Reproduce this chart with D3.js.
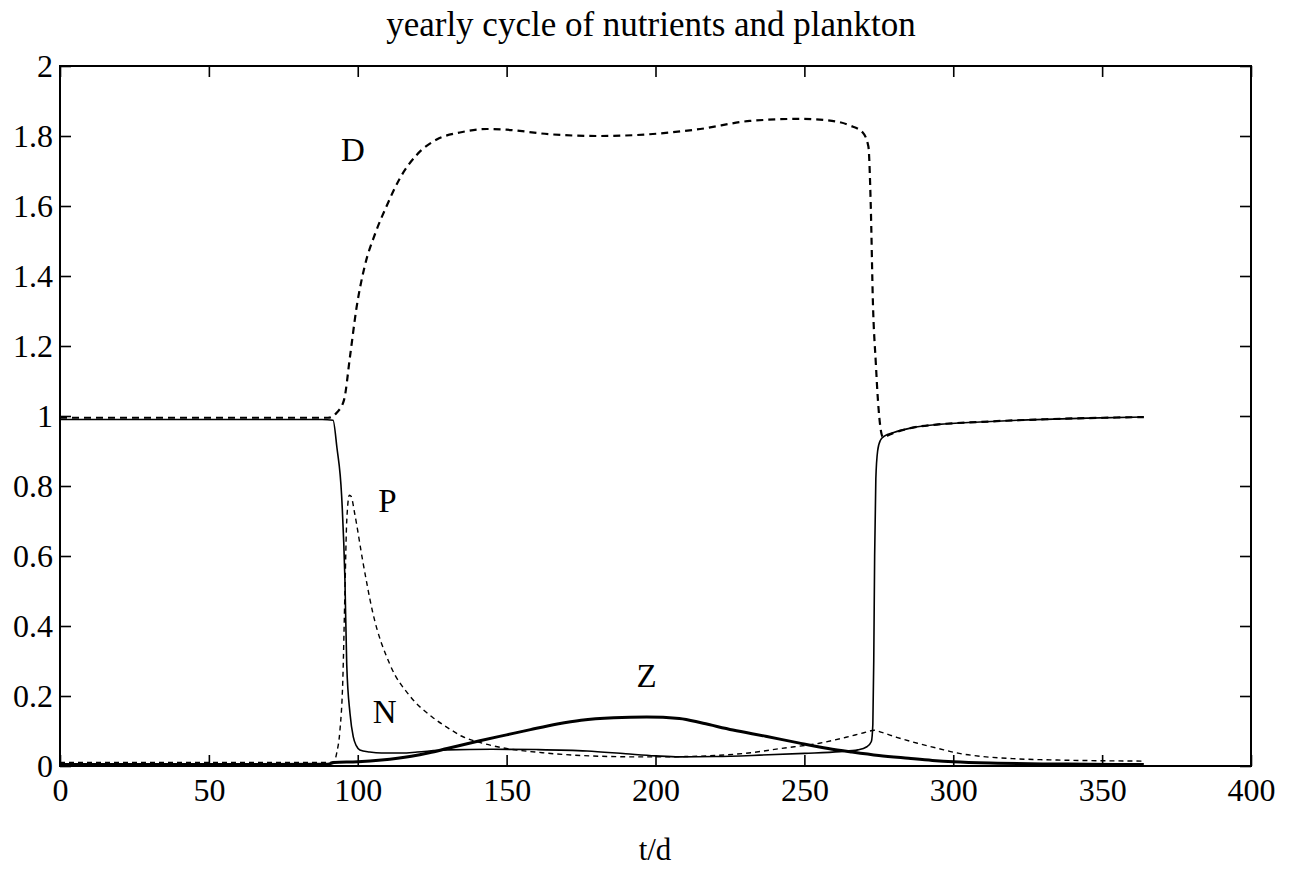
<!DOCTYPE html>
<html>
<head>
<meta charset="utf-8">
<script src="https://cdn.jsdelivr.net/npm/d3@7"></script>
<style>
  body { margin: 0; background: #fff; }
  svg text { font-family: "Liberation Serif", "DejaVu Serif", serif; fill: #000; }
</style>
</head>
<body>
<div id="chart"></div>
<script>
// values, [t in days, concentration]
const nutrients = [
  [0, 0.99], [30, 0.99], [60, 0.99], [88, 0.99], [91.7, 0.988], [93, 0.91], [94.6, 0.77],
  [95.7, 0.53], [96.3, 0.29], [97.4, 0.15], [98.5, 0.083], [99.5, 0.058], [100.7, 0.046],
  [104, 0.04], [108, 0.037], [115, 0.037], [120, 0.04], [130, 0.046], [145, 0.048],
  [160, 0.047], [177, 0.043], [190, 0.035], [200, 0.029], [208, 0.026], [220, 0.027],
  [235, 0.031], [250, 0.036], [262, 0.041], [268, 0.046], [271, 0.055], [272.5, 0.07],
  [273, 0.12], [273.3, 0.3], [273.6, 0.6], [274, 0.82], [274.6, 0.9], [275.5, 0.93],
  [277, 0.943], [280, 0.953], [286, 0.966], [295, 0.976], [309, 0.983], [325, 0.989],
  [345, 0.994], [364, 0.997]
]

const phyto = [
  [0, 0.01], [30, 0.01], [60, 0.01], [90, 0.01], [92, 0.012], [93, 0.04], [94, 0.1],
  [95, 0.25], [95.7, 0.5], [96.3, 0.7], [97.2, 0.774], [97.8, 0.77], [99, 0.72],
  [101.8, 0.58], [105, 0.44], [110.8, 0.29], [117.5, 0.2], [125, 0.14], [131, 0.105],
  [135, 0.085], [142, 0.065], [150, 0.05], [162, 0.038], [175, 0.03], [195, 0.026],
  [210, 0.027], [220, 0.03], [232, 0.038], [242, 0.05], [255, 0.065], [264, 0.082],
  [270, 0.095], [273.5, 0.102], [276, 0.096], [281, 0.082], [288, 0.065], [295, 0.05],
  [302, 0.036], [310, 0.027], [320, 0.021], [335, 0.017], [350, 0.015], [364, 0.014]
]

const zoo = [
  [0, 0.004], [30, 0.004], [60, 0.004], [90, 0.005], [92, 0.01], [100, 0.012],
  [108, 0.017], [118, 0.028], [124, 0.038], [130, 0.05], [141, 0.072], [150, 0.089],
  [158, 0.104], [167, 0.12], [175, 0.131], [186, 0.138], [197, 0.14], [208, 0.136],
  [216, 0.122], [226, 0.103], [237, 0.085], [248, 0.066], [258, 0.05], [266, 0.04],
  [275, 0.03], [285, 0.022], [293, 0.016], [300, 0.012], [315, 0.008], [330, 0.006],
  [345, 0.005], [364, 0.004]
]

const detritus = [
  [0, 0.995], [30, 0.995], [60, 0.995], [90, 0.995], [93, 1.01], [95.4, 1.046],
  [97.4, 1.17], [99.6, 1.31], [102.4, 1.43], [105.8, 1.52], [109.7, 1.6], [114.2, 1.68],
  [119.8, 1.746], [126.5, 1.79], [134.3, 1.81], [143.4, 1.82], [150, 1.818],
  [164.5, 1.805], [181, 1.8], [198, 1.805], [215, 1.82], [231.7, 1.843], [248.5, 1.849],
  [257.5, 1.845], [265.3, 1.83], [269.6, 1.81], [271.5, 1.77], [272.3, 1.6], [273, 1.33],
  [274, 1.15], [274.7, 1.046], [276.4, 0.94], [280, 0.952], [286, 0.966], [295, 0.976],
  [309, 0.983], [325, 0.989], [345, 0.994], [364, 0.997]
]

const xTicks = [0, 50, 100, 150, 200, 250, 300, 350, 400]
const yTicks = [0, 0.2, 0.4, 0.6, 0.8, 1, 1.2, 1.4, 1.6, 1.8, 2]

// curve labels: name, t, value at baseline
const curveLabels = [
  ['D', 98.4, 1.73],
  ['P', 110, 0.726],
  ['N', 109, 0.123],
  ['Z', 197, 0.226]
]

const W = 1296
const H = 875
const margin = { top: 66, right: 45, bottom: 109, left: 60 }

const svg = d3.select('#chart')
  .append('svg')
  .attr('width', W)
  .attr('height', H)

const x = d3.scaleLinear().domain([0, 400]).range([margin.left, W - margin.right])
const y = d3.scaleLinear().domain([0, 2]).range([H - margin.bottom, margin.top])

// title
svg.append('text')
  .attr('x', 651)
  .attr('y', 36)
  .attr('text-anchor', 'middle')
  .style('font-size', '35px')
  .text('yearly cycle of nutrients and plankton')

// axes, ticks pointing in
const fmt = d => d3.format('')(d)

svg.append('g')
  .attr('class', 'axis')
  .attr('transform', 'translate(0,' + y(0) + ')')
  .call(d3.axisBottom(x).tickValues(xTicks).tickSize(-11).tickPadding(12).tickFormat(fmt))

svg.append('g')
  .attr('class', 'axis')
  .attr('transform', 'translate(0,' + y(2) + ')')
  .call(d3.axisTop(x).tickValues(xTicks).tickSize(-11).tickFormat(''))

svg.append('g')
  .attr('class', 'axis')
  .attr('transform', 'translate(' + x(0) + ',0)')
  .call(d3.axisLeft(y).tickValues(yTicks).tickSize(-11).tickPadding(7).tickFormat(fmt))

svg.append('g')
  .attr('class', 'axis')
  .attr('transform', 'translate(' + x(400) + ',0)')
  .call(d3.axisRight(y).tickValues(yTicks).tickSize(-11).tickFormat(''))

svg.selectAll('.axis .domain').remove()
svg.selectAll('.axis line').attr('stroke', '#000').attr('stroke-width', 1.6)
svg.selectAll('.axis text')
  .style('font-size', '32px')
  .attr('fill', '#000')

svg.append('rect')
  .attr('x', x(0))
  .attr('y', y(2))
  .attr('width', x(400) - x(0))
  .attr('height', y(0) - y(2))
  .attr('fill', 'none')
  .attr('stroke', '#000')
  .attr('stroke-width', 2)

svg.append('text')
  .attr('x', 655)
  .attr('y', 860)
  .attr('text-anchor', 'middle')
  .style('font-size', '31px')
  .text('t/d')

// series
const line = d3.line()
  .x(d => x(d[0]))
  .y(d => y(d[1]))
  .curve(d3.curveMonotoneX)

svg.append('path')
  .datum(detritus)
  .attr('d', line)
  .attr('fill', 'none')
  .attr('stroke', '#000')
  .attr('stroke-width', 2.2)
  .attr('stroke-dasharray', '7,5')

svg.append('path')
  .datum(phyto)
  .attr('d', line)
  .attr('fill', 'none')
  .attr('stroke', '#000')
  .attr('stroke-width', 1.4)
  .attr('stroke-dasharray', '5,4')

svg.append('path')
  .datum(nutrients)
  .attr('d', line)
  .attr('fill', 'none')
  .attr('stroke', '#000')
  .attr('stroke-width', 1.6)

svg.append('path')
  .datum(zoo)
  .attr('d', line)
  .attr('fill', 'none')
  .attr('stroke', '#000')
  .attr('stroke-width', 3)

svg.selectAll('.curve-label')
  .data(curveLabels)
  .enter()
  .append('text')
  .attr('class', 'curve-label')
  .attr('x', d => x(d[1]))
  .attr('y', d => y(d[2]))
  .attr('text-anchor', 'middle')
  .style('font-size', '33px')
  .text(d => d[0])
</script>
</body>
</html>
